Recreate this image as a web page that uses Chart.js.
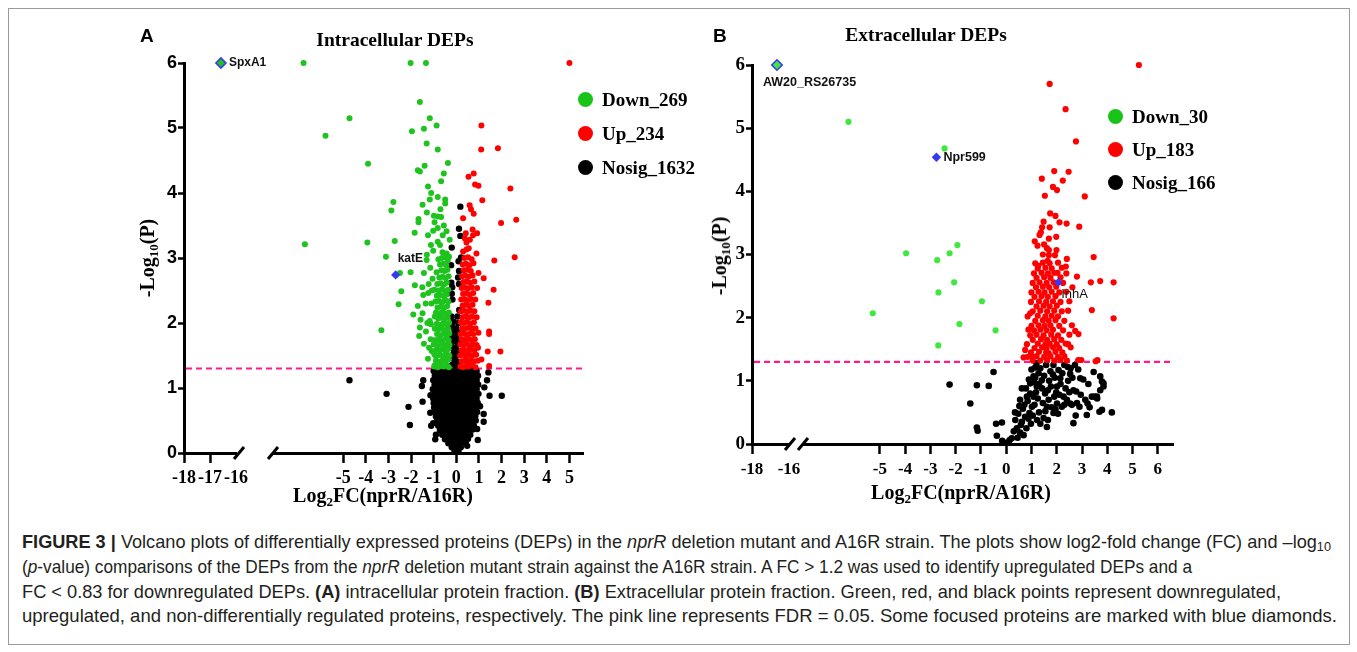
<!DOCTYPE html>
<html><head><meta charset="utf-8">
<script src="https://cdn.jsdelivr.net/npm/chart.js@4.4.1/dist/chart.umd.min.js"></script>
<style>
html,body{margin:0;padding:0;background:#fff;}
body{width:1357px;height:652px;position:relative;overflow:hidden;}
.frame{position:absolute;left:8px;top:8px;width:1342px;height:637px;border:1px solid #9b9b9b;box-sizing:border-box;}
canvas{position:absolute;}
.t{position:absolute;white-space:nowrap;line-height:1;color:#000;}
.serif{font-family:"Liberation Serif","Times New Roman",serif;font-weight:bold;}
.sans{font-family:"Liberation Sans",Arial,sans-serif;font-weight:bold;}
.t sub{font-size:0.65em;vertical-align:-0.28em;line-height:0;}
.leg{position:absolute;display:flex;align-items:center;height:20px;font-family:"Liberation Serif","Times New Roman",serif;font-weight:bold;font-size:19px;white-space:nowrap;line-height:1;color:#000;}
.dot{display:inline-block;width:15px;height:15px;border-radius:50%;margin-right:9.5px;flex:none;}
.cap{position:absolute;left:22px;white-space:nowrap;font-family:"Liberation Sans Narrow","Liberation Sans",Arial,sans-serif;font-size:19px;color:#231f20;line-height:1;transform-origin:0 0;}
.cap sub{font-size:0.7em;vertical-align:-0.25em;line-height:0;}
</style>
</head>
<body>
<div class="frame"></div>

<canvas id="aL" width="480" height="455" style="left:124px;top:43px;width:480px;height:455px;"></canvas>
<canvas id="aR" width="480" height="455" style="left:124px;top:43px;width:480px;height:455px;"></canvas>
<canvas id="bL" width="500" height="444" style="left:692px;top:45px;width:500px;height:444px;"></canvas>
<canvas id="bR" width="500" height="444" style="left:692px;top:45px;width:500px;height:444px;"></canvas>

<div class="t sans" style="left:140px;top:25.5px;font-size:19px;">A</div>
<div class="t sans" style="left:713px;top:26px;font-size:19px;">B</div>
<div class="t serif" style="left:395px;top:30px;font-size:19.5px;transform:translateX(-50%);">Intracellular DEPs</div>
<div class="t serif" style="left:926px;top:25px;font-size:19.5px;transform:translateX(-50%);">Extracellular DEPs</div>

<div class="t serif" style="left:383px;top:485px;font-size:20px;transform:translateX(-50%);">Log<sub>2</sub>FC(nprR/A16R)</div>
<div class="t serif" style="left:961px;top:481.5px;font-size:20px;transform:translateX(-50%);">Log<sub>2</sub>FC(nprR/A16R)</div>
<div class="t serif" style="left:147px;top:258px;font-size:20px;transform:translate(-50%,-50%) rotate(-90deg);">-Log<sub>10</sub>(P)</div>
<div class="t serif" style="left:719px;top:256px;font-size:20px;transform:translate(-50%,-50%) rotate(-90deg);">-Log<sub>10</sub>(P)</div>

<div id="legA"></div>
<div id="legB"></div>

<div class="cap" id="c1" style="top:532.2px;"><b>FIGURE 3 |</b> Volcano plots of differentially expressed proteins (DEPs) in the <i>nprR</i> deletion mutant and A16R strain. The plots show log2-fold change (FC) and –log<sub>10</sub></div>
<div class="cap" id="c2" style="top:556.9px;">(<i>p</i>-value) comparisons of the DEPs from the <i>nprR</i> deletion mutant strain against the A16R strain. A FC &gt; 1.2 was used to identify upregulated DEPs and a</div>
<div class="cap" id="c3" style="top:581.6px;">FC &lt; 0.83 for downregulated DEPs. <b>(A)</b> intracellular protein fraction. <b>(B)</b> Extracellular protein fraction. Green, red, and black points represent downregulated,</div>
<div class="cap" id="c4" style="top:606.2px;">upregulated, and non-differentially regulated proteins, respectively. The pink line represents FDR = 0.05. Some focused proteins are marked with blue diamonds.</div>

<script>
// ---------------- DATA ----------------
const yTicks = [0,1,2,3,4,5,6];
const xTicksAL = [-18,-17,-16];
const xTicksAR = [-5,-4,-3,-2,-1,0,1,2,3,4,5];
const xTicksBL = [-18,-16];
const xTicksBR = [-5,-4,-3,-2,-1,0,1,2,3,4,5,6];
const thresholdY = 1.3;

const legendLabelsA = ['Down_269','Up_234','Nosig_1632'];
const legendLabelsB = ['Down_30','Up_183','Nosig_166'];

const focusNamesA = ['SpxA1','katE'];
const focusXA = [-16.58,-2.68];
const focusYA = [6,2.74];
const focusNamesB = ['AW20_RS26735','Npr599','InhA'];
const focusXB = [-16.65,-2.76,2.06];
const focusYB = [6,4.54,2.56];

const downA = [
[-16.58,6],
[-6.75,6],[-2.02,6],[-1.34,6],[-1.61,5.40],[-4.72,5.15],[-1.17,5.15],[-0.87,5.04],[-1.43,4.99],[-1.96,4.95],[-5.78,4.88],[-1.31,4.76],[-0.82,4.67],[-3.90,4.45],[-0.37,4.46],[-1.40,4.42],[-1.70,4.35],[-1.61,4.33],[-0.67,4.18],[-1.11,4.00],[-0.82,3.94],[-1.17,3.90],[-0.49,3.90],[-0.49,3.84],[-2.78,3.86],[-1.49,3.82],[-2.87,3.73],[-0.99,3.65],[-0.82,3.64],[-0.67,3.63],[-1.67,3.60],[-1.67,3.55],[-0.96,3.55],[-0.82,3.46],[-1.02,3.42],[-0.43,3.41],[-1.84,3.39],[-0.29,3.28],[-2.72,3.26],[-3.93,3.24],[-0.82,3.25],[-6.69,3.21],[-1.02,3.11],[-0.61,3.09],[-0.43,3.07],[-0.49,3.01],[-0.79,2.98],[-0.32,3.02],[-3.11,3.02],[-1.31,2.97],
[-2.49,2.77],[-2.02,2.78],[-1.43,2.77],[-0.87,2.78],[-2.43,2.49],[-1.83,2.58],[-2.55,2.29],[-1.70,2.26],[-1.46,2.43],[-1.24,2.46],[-1.90,2.13],[-1.49,2.15],[-1.17,2.03],[-0.95,2.10],[-1.61,1.93],[-1.34,1.87],[-3.31,1.89],[-1.64,1.80],[-1.43,1.68],[-1.09,1.57],[-0.90,1.49],[-0.65,1.41],[-0.95,1.35],
[-1.20,1.62],[-1.13,1.75],[-1.28,2.00],[-1.10,2.30],[-1.22,2.60],[-1.05,2.68],[-1.15,2.85],[-1.35,2.30],[-1.50,2.55],[-1.58,2.05],[-1.25,1.45],[-1.12,1.98],[-1.08,2.50],[-1.30,3.05],[-1.12,3.20],[-1.25,3.35],[-0.72,3.20],[-0.60,3.35],[-0.55,3.50],[-1.30,3.70],[-0.70,3.75],[-1.25,4.10],[-0.55,4.30],
[-0.98,1.33],[-0.82,1.32],[-0.68,1.34],[-0.55,1.33],[-0.42,1.35],[-0.33,1.32],
[-0.90,1.42],[-0.76,1.40],[-0.61,1.43],[-0.48,1.41],[-0.36,1.44],
[-0.97,1.52],[-0.83,1.50],[-0.70,1.51],[-0.56,1.49],[-0.43,1.52],[-0.31,1.50],
[-0.88,1.59],[-0.74,1.58],[-0.61,1.60],[-0.47,1.57],[-0.35,1.60],
[-1.00,1.67],[-0.81,1.66],[-0.67,1.68],[-0.53,1.65],[-0.40,1.67],[-0.30,1.66],
[-0.92,1.74],[-0.75,1.75],[-0.60,1.73],[-0.46,1.76],[-0.34,1.74],
[-0.85,1.83],[-0.70,1.81],[-0.55,1.84],[-0.41,1.82],[-0.31,1.84],
[-0.95,1.91],[-0.78,1.90],[-0.63,1.92],[-0.49,1.89],[-0.36,1.91],
[-0.86,1.99],[-0.72,1.97],[-0.57,2.00],[-0.44,1.98],[-0.32,2.00],
[-0.80,2.07],[-0.65,2.08],[-0.51,2.06],[-0.38,2.09],
[-0.90,2.16],[-0.74,2.15],[-0.60,2.17],[-0.46,2.14],[-0.33,2.16],
[-0.83,2.24],[-0.68,2.25],[-0.54,2.23],[-0.40,2.26],
[-0.92,2.33],[-0.76,2.34],[-0.62,2.32],[-0.48,2.35],[-0.35,2.33],
[-0.86,2.42],[-0.70,2.43],[-0.55,2.41],[-0.42,2.44],
[-0.96,2.51],[-0.78,2.50],[-0.63,2.52],[-0.49,2.49],[-0.36,2.51],
[-0.84,2.60],[-0.69,2.61],[-0.56,2.59],[-0.42,2.62],
[-0.75,2.70],[-0.60,2.71],[-0.47,2.69],[-0.34,2.72],
[-0.66,2.81],[-0.52,2.80],[-0.39,2.82],
[-0.72,2.90],[-0.57,2.91],[-0.44,2.89],
[-0.64,3.00],[-0.38,2.96]
];

const upA = [
[5.00,6],[1.11,5.04],[1.10,4.67],[1.84,4.69],[0.54,4.25],[0.77,4.30],[0.83,4.13],[0.98,4.11],[2.39,4.07],[1.15,3.89],[0.59,3.81],[0.65,3.75],[0.77,3.68],[0.30,3.61],[1.98,3.54],[2.65,3.59],[0.72,3.44],[0.42,3.38],[0.92,3.38],[0.74,3.35],[0.45,3.24],[0.89,3.07],[0.45,3.13],[1.68,2.96],[2.58,3.01],[0.98,2.77],[1.21,2.69],[1.65,2.51],[1.42,2.31],[1.45,1.87],[1.45,1.83],[1.95,1.56],[1.39,1.56],[1.45,1.34],[1.11,1.44],[0.96,1.62],
[0.18,1.33],[0.30,1.32],[0.43,1.34],[0.56,1.33],[0.70,1.35],[0.85,1.32],
[0.24,1.41],[0.37,1.42],[0.50,1.40],[0.63,1.43],[0.78,1.41],[0.95,1.42],
[0.17,1.50],[0.30,1.51],[0.44,1.49],[0.57,1.52],[0.71,1.50],[0.88,1.51],
[0.23,1.58],[0.36,1.59],[0.50,1.57],[0.64,1.60],[0.80,1.58],
[0.18,1.67],[0.31,1.66],[0.45,1.68],[0.58,1.65],[0.73,1.67],[0.90,1.66],
[0.24,1.75],[0.38,1.74],[0.52,1.76],[0.66,1.74],[0.82,1.75],
[0.19,1.83],[0.33,1.84],[0.46,1.82],[0.60,1.84],[0.75,1.83],[0.98,1.85],
[0.26,1.92],[0.40,1.91],[0.54,1.93],[0.68,1.91],[0.85,1.92],
[0.20,2.01],[0.34,2.00],[0.48,2.02],[0.62,1.99],[0.78,2.01],
[0.27,2.09],[0.41,2.10],[0.55,2.08],[0.70,2.10],[0.90,2.09],
[0.21,2.18],[0.35,2.19],[0.49,2.17],[0.63,2.19],[0.80,2.18],
[0.28,2.27],[0.42,2.28],[0.56,2.26],[0.72,2.28],
[0.22,2.36],[0.36,2.37],[0.50,2.35],[0.65,2.37],[0.84,2.36],
[0.30,2.45],[0.44,2.46],[0.58,2.44],[0.75,2.46],
[0.24,2.54],[0.38,2.55],[0.52,2.53],[0.68,2.55],[0.92,2.54],
[0.31,2.63],[0.46,2.64],[0.60,2.62],[0.80,2.64],
[0.26,2.72],[0.40,2.73],[0.55,2.71],[0.72,2.73],
[0.33,2.81],[0.48,2.82],[0.64,2.80],
[0.28,2.90],[0.43,2.91],[0.58,2.89],[0.76,2.92],
[0.36,3.00],[0.52,3.01],[0.68,2.98],
[0.30,3.10],[0.55,3.15],[0.38,3.30],[0.60,3.28]
];

const nosigA = [
[-4.72,1.12],[-3.08,0.91],[-2.11,0.71],[-2.05,0.43],[-1.49,0.79],[-1.46,1.12],[-1.52,1.03],[-1.14,0.89],[-1.11,0.42],[-0.93,0.21],[-1.02,0.46],[-0.90,0.28],[-1.15,0.62],
[1.36,1.12],[1.42,1.24],[2.01,0.88],[1.47,0.88],[1.24,1.01],[1.21,0.60],[1.21,0.48],[0.92,0.37],[0.48,0.11],[1.05,0.72],[0.95,0.20],
[0.18,3.79],[0.12,3.45],[0.18,3.34],[-0.20,3.16],[0.21,3.01],[-0.23,2.89],
[-0.22,2.62],[-0.18,2.55],[-0.20,2.45],[-0.17,2.36],[-0.22,2.10],[-0.12,2.02],[-0.20,1.95],[-0.08,1.88],[-0.20,1.80],[-0.10,1.72],[-0.21,1.64],[-0.10,1.56],[-0.20,1.50],[-0.08,1.42],[-0.18,1.36],
[0.10,2.95],[0.12,2.80],[0.08,2.70],[0.12,2.60],[0.13,2.20],[0.05,2.10],[0.10,2.00],[0.00,1.92],[0.08,1.85],[0.00,1.78],[0.06,1.70],[-0.02,1.62],[0.07,1.55],[-0.03,1.48],[0.05,1.40],[0.00,1.34],
[-0.08,0.03],[0.10,0.04],
[-0.20,0.09],[0.00,0.10],[0.20,0.09],
[-0.35,0.15],[-0.14,0.16],[0.06,0.15],[0.27,0.16],[0.42,0.15],
[-0.50,0.21],[-0.30,0.22],[-0.09,0.21],[0.12,0.22],[0.33,0.21],[0.52,0.22],
[-0.62,0.28],[-0.41,0.29],[-0.20,0.28],[0.01,0.29],[0.22,0.28],[0.43,0.29],[0.62,0.28],
[-0.72,0.35],[-0.52,0.36],[-0.31,0.35],[-0.10,0.36],[0.11,0.35],[0.32,0.36],[0.53,0.35],[0.72,0.36],
[-0.80,0.42],[-0.60,0.43],[-0.40,0.42],[-0.20,0.43],[0.00,0.42],[0.20,0.43],[0.40,0.42],[0.60,0.43],[0.78,0.42],
[-0.86,0.49],[-0.66,0.50],[-0.46,0.49],[-0.26,0.50],[-0.06,0.49],[0.14,0.50],[0.34,0.49],[0.54,0.50],[0.72,0.49],[0.86,0.50],
[-0.90,0.56],[-0.72,0.57],[-0.52,0.56],[-0.32,0.57],[-0.12,0.56],[0.08,0.57],[0.28,0.56],[0.48,0.57],[0.66,0.56],[0.84,0.57],
[-0.95,0.63],[-0.78,0.64],[-0.58,0.63],[-0.38,0.64],[-0.18,0.63],[0.02,0.64],[0.22,0.63],[0.42,0.64],[0.60,0.63],[0.78,0.64],[0.92,0.63],
[-0.98,0.70],[-0.86,0.71],[-0.66,0.70],[-0.46,0.71],[-0.26,0.70],[-0.06,0.71],[0.14,0.70],[0.34,0.71],[0.54,0.70],[0.72,0.71],[0.88,0.70],
[-1.00,0.77],[-0.78,0.78],[-0.58,0.77],[-0.38,0.78],[-0.18,0.77],[0.02,0.78],[0.22,0.77],[0.42,0.78],[0.62,0.77],[0.80,0.78],[0.95,0.77],
[-1.02,0.84],[-0.86,0.85],[-0.66,0.84],[-0.46,0.85],[-0.26,0.84],[-0.06,0.85],[0.14,0.84],[0.34,0.85],[0.54,0.84],[0.72,0.85],[0.90,0.84],
[-0.96,0.91],[-0.78,0.92],[-0.58,0.91],[-0.38,0.92],[-0.18,0.91],[0.02,0.92],[0.22,0.91],[0.42,0.92],[0.62,0.91],[0.80,0.92],[0.98,0.91],
[-1.04,0.98],[-0.86,0.99],[-0.66,0.98],[-0.46,0.99],[-0.26,0.98],[-0.06,0.99],[0.14,0.98],[0.34,0.99],[0.54,0.98],[0.72,0.99],[0.90,0.98],
[-0.96,1.05],[-0.78,1.06],[-0.58,1.05],[-0.38,1.06],[-0.18,1.05],[0.02,1.06],[0.22,1.05],[0.42,1.06],[0.62,1.05],[0.80,1.06],[0.97,1.05],
[-1.02,1.12],[-0.86,1.13],[-0.66,1.12],[-0.46,1.13],[-0.26,1.12],[-0.06,1.13],[0.14,1.12],[0.34,1.13],[0.54,1.12],[0.72,1.13],[0.90,1.12],
[-0.95,1.19],[-0.78,1.20],[-0.58,1.19],[-0.38,1.20],[-0.18,1.19],[0.02,1.20],[0.22,1.19],[0.42,1.20],[0.62,1.19],[0.80,1.20],[0.96,1.19],
[-1.00,1.26],[-0.86,1.27],[-0.66,1.26],[-0.46,1.27],[-0.26,1.26],[-0.06,1.27],[0.14,1.26],[0.34,1.27],[0.54,1.26],[0.72,1.27],[0.90,1.26]
];

const downB = [
[-16.65,6],
[-6.24,5.10],[-2.44,4.68],[-3.96,3.02],[-1.93,3.15],[-2.24,3.02],[-2.73,2.91],[-2.06,2.56],[-2.68,2.40],[-0.96,2.26],[-5.28,2.07],[-1.85,1.90],[-0.42,1.80],[-2.69,1.56]
];

const upB = [
[5.25,6.00],[1.72,5.70],[2.35,5.30],[2.76,4.79],[1.90,4.32],[2.47,4.31],[1.41,4.20],[2.24,4.17],[1.85,4.07],[2.01,4.02],[1.53,3.93],[3.11,3.92],[1.74,3.65],[1.95,3.61],[2.11,3.51],[2.39,3.49],[1.48,3.52],[2.89,3.44],[1.42,3.43],[1.72,3.43],[1.37,3.35],[1.32,3.31],[1.69,3.25],[1.98,3.28],[1.13,3.21],[1.24,3.14],[1.50,3.16],[1.61,3.10],[1.69,3.07],[1.99,3.07],[1.45,3.00],[1.69,2.99],[1.93,2.99],[3.46,2.96],[1.64,2.90],[2.40,2.93],[1.27,2.82],[2.36,2.81],
[2.03,2.71],[4.25,2.56],[3.72,2.58],[3.35,2.56],[2.80,2.65],[3.39,2.12],[4.25,1.99],[2.86,1.74],[2.73,1.79],[2.45,1.58],[2.85,1.33],[2.97,1.33],[3.54,1.31],[3.61,1.33],[0.75,1.49],[0.88,1.81],[0.95,2.07],[0.69,1.37],[1.02,1.38],
[1.05,1.32],[1.35,1.32],[1.62,1.33],[1.90,1.32],[2.15,1.33],[2.40,1.32],
[0.85,1.38],[1.20,1.39],[1.50,1.38],[1.75,1.39],[2.05,1.38],[2.30,1.39],
[0.98,1.45],[1.30,1.46],[1.58,1.45],[1.68,1.44],[1.95,1.46],[2.22,1.45],
[1.12,1.52],[1.42,1.53],[1.60,1.52],[1.85,1.53],[2.10,1.52],[2.55,1.53],
[0.82,1.58],[1.25,1.59],[1.55,1.58],[1.72,1.59],[2.00,1.58],[2.35,1.59],
[1.05,1.65],[1.38,1.66],[1.62,1.65],[1.90,1.66],[2.18,1.65],
[0.95,1.72],[1.20,1.73],[1.48,1.72],[1.78,1.73],[2.05,1.72],[2.50,1.73],
[1.10,1.80],[1.35,1.81],[1.60,1.80],[1.85,1.81],[2.25,1.80],
[1.00,1.87],[1.28,1.88],[1.52,1.87],[1.75,1.88],[2.10,1.87],[2.60,1.88],
[1.15,1.95],[1.45,1.96],[1.68,1.95],[1.95,1.96],[2.30,1.95],
[0.85,2.02],[1.25,2.03],[1.55,2.02],[1.80,2.03],[2.05,2.02],
[1.05,2.10],[1.35,2.11],[1.62,2.10],[1.90,2.11],[2.20,2.10],[2.45,2.11],
[1.20,2.18],[1.48,2.19],[1.72,2.18],[2.00,2.19],
[0.98,2.25],[1.30,2.26],[1.58,2.25],[1.85,2.26],[2.15,2.25],[2.50,2.26],
[1.12,2.33],[1.40,2.34],[1.65,2.33],[1.95,2.34],
[1.00,2.40],[1.28,2.41],[1.52,2.40],[1.80,2.41],[2.10,2.40],[2.38,2.41],
[1.18,2.48],[1.45,2.49],[1.70,2.48],[1.98,2.49],[2.62,2.48],
[1.05,2.55],[1.32,2.56],[1.60,2.55],[1.88,2.56],[2.25,2.55],
[1.20,2.63],[1.50,2.64],[1.75,2.63],[2.15,2.64],
[1.10,2.70],[1.40,2.71],[1.65,2.70],[1.90,2.71],[2.38,2.70],
[1.25,2.78],[1.55,2.79],[1.80,2.78],[2.20,2.79],
[1.15,2.86],[1.45,2.87],[1.72,2.86],[2.05,2.87]
];

const nosigB = [
[-0.50,1.14],[-2.24,0.94],[-1.16,0.93],[-0.69,0.92],[-1.42,0.64],[-1.16,0.26],[-1.13,0.21],[-0.40,0.32],[-0.17,0.34],[-0.37,0.13],[-0.16,0.05],[-0.04,0.02],[0.13,0.06],[0.22,0.09],[0.36,0.38],[0.42,0.25],[0.55,0.18],[0.69,0.14],[0.62,0.35],[0.75,0.43],[0.55,0.70],[0.66,0.56],[0.82,0.75],[0.92,0.49],[1.02,0.59],[0.62,0.88],[0.95,0.96],[1.08,0.75],[1.21,0.91],[1.28,1.12],[1.15,1.21],[1.08,1.07],[1.41,1.01],[1.54,0.80],[1.61,0.59],[1.48,0.41],[1.61,0.27],[1.77,0.91],[1.90,0.75],[2.01,0.91],[2.07,1.17],[1.87,1.25],[2.14,1.04],[1.87,0.49],[2.01,0.64],[2.20,0.59],[2.27,0.75],[2.40,0.70],[2.53,0.64],[2.44,1.22],[2.53,1.11],[2.66,0.85],[2.77,0.83],[2.66,0.33],[2.93,1.04],[2.90,0.59],[3.22,0.64],[3.19,0.46],[3.13,0.70],[3.46,1.14],[3.39,0.75],[3.59,0.75],[3.72,1.07],[3.79,0.99],[3.85,0.96],[3.85,0.91],[3.69,0.51],[3.79,0.54],[4.18,0.50],[3.72,0.85],
[0.72,0.62],[0.85,0.68],[0.78,0.88],[0.90,1.02],[1.00,1.18],[1.10,0.98],[1.18,0.82],[1.12,0.62],[1.25,0.72],[1.30,0.95],[1.35,1.20],[1.20,1.28],[1.42,0.88],[1.50,1.08],[1.58,1.25],[1.45,0.65],[1.55,0.52],[1.68,0.70],[1.70,1.00],[1.75,1.15],[1.65,0.38],[1.80,0.58],[1.92,1.05],[1.98,0.82],[1.95,0.55],[2.10,0.78],[2.15,0.95],[2.22,1.12],[2.30,0.62],[2.35,0.88],[2.45,1.00],[2.50,0.82],[2.62,1.05],[2.60,0.62],[2.72,1.25],[2.80,0.65],[2.95,0.78],[3.05,1.02],[2.85,1.18],[0.98,0.32],[1.30,0.50],[1.35,0.32],[0.48,0.48],[0.52,0.60],[0.80,0.25],[0.88,0.40],[1.05,0.45],[0.30,0.20],[0.45,0.10],[0.58,0.30],[0.35,0.50],[0.95,0.80],[1.15,1.05],[1.65,0.85],[1.85,1.10],[2.05,0.48],[2.30,1.25],[2.55,1.20],[3.30,0.58],[3.60,0.72],[3.50,0.75],[3.25,0.95],[2.75,0.45],[1.22,0.38]
];

// ---------------- STYLE ----------------
const SERIF = '"Liberation Serif","Times New Roman",serif';
const SANS = '"Liberation Sans",Arial,sans-serif';
const C = {greenA:'#1ec31e', greenB:'#3fe83f', greenLeg:'#17c417', red:'#ff0000', black:'#000000', blue:'#3838f2', pink:'#ff1b8d'};
const focusStyle = {
  'SpxA1':        {fill:C.greenA, r:5,   bw:1.6, dx:8,   dy:0,   font:'bold 12px '+SANS},
  'katE':         {fill:C.blue,   r:4.6, bw:0,   dx:2,   dy:-16, font:'bold 12px '+SANS},
  'AW20_RS26735': {fill:C.greenB, r:5.2, bw:1.6, dx:-14, dy:18,  font:'bold 12.5px '+SANS},
  'Npr599':       {fill:C.blue,   r:4.7, bw:0,   dx:7,   dy:0,   font:'bold 12.5px '+SANS},
  'InhA':         {fill:C.blue,   r:4.4, bw:0,   dx:3,   dy:12,  font:'13px '+SANS}
};

// legends (HTML)
function legend(id, labels, colors, left, tops) {
  const host = document.getElementById(id);
  labels.forEach((lab, i) => {
    const row = document.createElement('div');
    row.className = 'leg';
    row.style.left = left + 'px'; row.style.top = (tops[i] - 10) + 'px';
    const d = document.createElement('span'); d.className = 'dot'; d.style.background = colors[i];
    row.appendChild(d); row.appendChild(document.createTextNode(lab));
    host.appendChild(row);
  });
}
legend('legA', legendLabelsA, [C.greenLeg, C.red, C.black], 577.5, [99,133,167]);
legend('legB', legendLabelsB, [C.greenLeg, C.red, C.black], 1107.5, [116,149,182]);

// ---------------- CHARTS ----------------
function inRange(pts, lo, hi) { return pts.filter(p => p[0] >= lo && p[0] <= hi).map(p => ({x:p[0], y:p[1]})); }

function focusSet(names, xs, ys, lo, hi) {
  const pts = names.map((n,i) => ({x:xs[i], y:ys[i], name:n})).filter(p => p.x >= lo && p.x <= hi);
  return {
    pts,
    ds: {
      data: pts.map(p => ({x:p.x, y:p.y})),
      pointStyle:'rectRot',
      pointRadius: pts.map(p => focusStyle[p.name].r),
      backgroundColor: pts.map(p => focusStyle[p.name].fill),
      borderColor: C.blue,
      borderWidth: pts.map(p => focusStyle[p.name].bw),
      clip:false
    }
  };
}

function axisX(min, max, ticksArr, font, hideVal) {
  return {
    type:'linear', min, max, position:'bottom',
    afterBuildTicks: s => { s.ticks = ticksArr.map(v => ({value:v})); },
    afterFit: s => { s.height = 45; },
    border:{display:true, width:3, color:'#000'},
    grid:{display:true, drawOnChartArea:false, drawTicks:true, tickLength:10, tickWidth:2.5,
          tickColor: c => (c.tick && c.tick.value === hideVal) ? 'rgba(0,0,0,0)' : '#000'},
    ticks:{color:'#000', font, padding:5, maxRotation:0, minRotation:0, autoSkip:false, callback: v => String(v)}
  };
}
function axisY(show, font) {
  return {
    type:'linear', min:0, max:6, display:show, position:'left',
    afterBuildTicks: s => { s.ticks = yTicks.map(v => ({value:v})); },
    afterFit: s => { s.width = show ? 60 : 0; },
    border:{display:true, width:3, color:'#000'},
    grid:{display:true, drawOnChartArea:false, drawTicks:true, tickLength:6, tickWidth:2.5, tickColor:'#000'},
    ticks:{color:'#000', font, padding:1, callback: v => String(v)}
  };
}

function breakPlugin(side, dx) {
  return {id:'brk'+side, afterDraw(chart) {
    const ca = chart.chartArea, ctx = chart.ctx;
    const x = (side === 'right' ? ca.right : ca.left) + dx, y = ca.bottom;
    ctx.save(); ctx.strokeStyle = '#000'; ctx.lineWidth = 3; ctx.lineCap = 'butt';
    ctx.beginPath(); ctx.moveTo(x - 5, y + 6); ctx.lineTo(x + 5, y - 6); ctx.stroke(); ctx.restore();
  }};
}
function threshPlugin(fromPx) {
  return {id:'thresh', beforeDatasetsDraw(chart) {
    const y = chart.scales.y.getPixelForValue(thresholdY), ctx = chart.ctx;
    ctx.save(); ctx.strokeStyle = C.pink; ctx.lineWidth = 2.2; ctx.setLineDash([6,4]);
    ctx.beginPath(); ctx.moveTo(fromPx, y); ctx.lineTo(chart.chartArea.right, y); ctx.stroke(); ctx.restore();
  }};
}
function labelPlugin(pts) {
  return {id:'flab', afterDatasetsDraw(chart) {
    const ctx = chart.ctx;
    pts.forEach(p => {
      const st = focusStyle[p.name];
      const px = chart.scales.x.getPixelForValue(p.x), py = chart.scales.y.getPixelForValue(p.y);
      ctx.save(); ctx.font = st.font; ctx.fillStyle = '#111'; ctx.textAlign = 'left'; ctx.textBaseline = 'middle';
      ctx.fillText(p.name, px + st.dx, py + st.dy); ctx.restore();
    });
  }};
}

function makeChart(id, o) {
  const f = focusSet(o.fn, o.fx, o.fy, o.min, o.max);
  const sets = [
    f.ds,
    {data: inRange(o.down, o.min, o.max), backgroundColor:o.gcol, pointRadius:o.r, borderWidth:0, clip:false},
    {data: inRange(o.up, o.min, o.max), backgroundColor:C.red, pointRadius:o.r, borderWidth:0, clip:false},
    {data: inRange(o.nosig, o.min, o.max), backgroundColor:C.black, pointRadius:o.rb, borderWidth:0, clip:false}
  ];
  const plugins = [labelPlugin(f.pts)];
  if (o.brk) plugins.push(breakPlugin(o.brk[0], o.brk[1]));
  if (o.thresh !== undefined) plugins.push(threshPlugin(o.thresh));
  return new Chart(document.getElementById(id), {
    type:'scatter',
    data:{datasets:sets},
    options:{
      responsive:false, animation:false, devicePixelRatio:1,
      layout:{padding:o.pad},
      elements:{point:{pointStyle:'circle', hoverRadius:0}},
      plugins:{legend:{display:false}, tooltip:{enabled:false}, title:{display:false}},
      events:[],
      scales:{ x: axisX(o.min, o.max, o.ticks, o.xfont, o.hide), y: axisY(o.showY, o.yfont) }
    },
    plugins
  });
}

const xfontA = {family:SERIF, weight:'bold', size:18};
const yfontA = {family:SANS, weight:'bold', size:18};
const xfontB = {family:SERIF, weight:'bold', size:17};
const yfontB = {family:SERIF, weight:'bold', size:19};

// Panel A  (both canvases share geometry; y axis at canvas x=60)
makeChart('aL', {min:-18, max:-16, ticks:xTicksAL, hide:-16, showY:true, xfont:xfontA, yfont:yfontA,
  pad:{left:0, top:20, right:368, bottom:0}, down:downA, up:upA, nosig:nosigA, gcol:C.greenA, r:3, rb:3.2,
  fn:focusNamesA, fx:focusXA, fy:focusYA, brk:['right',3]});
makeChart('aR', {min:-8.1, max:5.6, ticks:xTicksAR, hide:null, showY:false, xfont:xfontA, yfont:yfontA,
  pad:{left:149, top:20, right:21, bottom:0}, down:downA, up:upA, nosig:nosigA, gcol:C.greenA, r:3, rb:3.2,
  fn:focusNamesA, fx:focusXA, fy:focusYA, brk:['left',0], thresh:62});
// Panel B
makeChart('bL', {min:-18, max:-16, ticks:xTicksBL, hide:-16, showY:true, xfont:xfontB, yfont:yfontB,
  pad:{left:0, top:20, right:403, bottom:0}, down:downB, up:upB, nosig:nosigB, gcol:C.greenB, r:3.1, rb:3.3,
  fn:focusNamesB, fx:focusXB, fy:focusYB, brk:['right',1]});
makeChart('bR', {min:-8.0, max:6.6, ticks:xTicksBR, hide:null, showY:false, xfont:xfontB, yfont:yfontB,
  pad:{left:112, top:20, right:19, bottom:0}, down:downB, up:upB, nosig:nosigB, gcol:C.greenB, r:3.1, rb:3.3,
  fn:focusNamesB, fx:focusXB, fy:focusYB, brk:['left',-1], thresh:62});

// caption line widths (fit to the reference line lengths)
const capTargets = [1309, 1170, 1259, 1315];
function fitCaption() {
  ['c1','c2','c3','c4'].forEach((id, i) => {
    const el = document.getElementById(id);
    el.style.transform = 'none';
    const w = el.getBoundingClientRect().width;
    if (w > 0) el.style.transform = 'scaleX(' + (capTargets[i] / w) + ')';
  });
}
fitCaption();
if (document.fonts && document.fonts.ready) document.fonts.ready.then(fitCaption);
</script>
</body></html>
